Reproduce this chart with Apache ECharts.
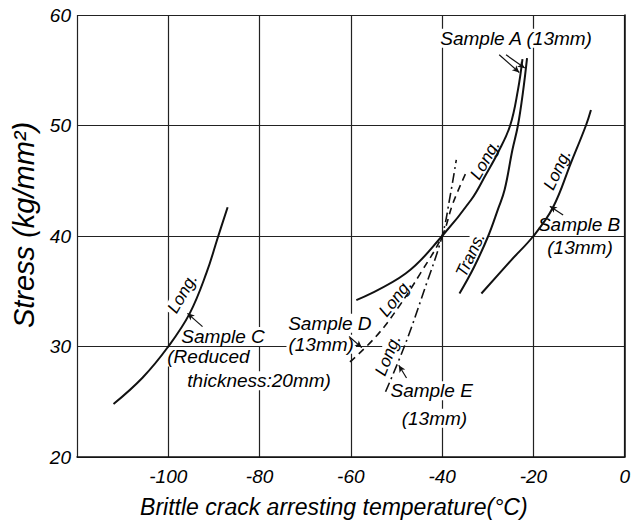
<!DOCTYPE html>
<html><head><meta charset="utf-8">
<script src="https://cdn.jsdelivr.net/npm/echarts@6/dist/echarts.min.js"></script>
<style>html,body{margin:0;padding:0;background:#fff}#c{width:633px;height:523px}</style>
</head><body><div id="c"></div>
<script>
// ---- data ----
const xTicks = [-120, -100, -80, -60, -40, -20, 0];
const yTicks = [20, 30, 40, 50, 60];
const sampleALong  = [[-58.8,34.2],[-48,36.6],[-40,40],[-33.6,43.3],[-30.5,45.5],[-27.7,47.6],[-25.1,50],[-23.4,53.2],[-22.4,56]];
const sampleATrans = [[-36.2,34.8],[-33,37.2],[-29.9,40],[-27.7,42.5],[-26.3,44.2],[-24.6,47.8],[-23.4,50],[-22.3,53],[-21.4,56.1]];
const sampleBLong  = [[-31.4,34.8],[-24.9,37.8],[-20,40],[-15.7,42.6],[-11.8,46.6],[-8.5,50],[-7.4,51.4]];
const sampleCLong  = [[-112,24.8],[-105.6,27.2],[-100,30],[-95.3,33],[-91.6,36.7],[-89.2,39.8],[-87,42.6]];
const sampleDLong  = [[-60.2,28.6],[-54.5,30.9],[-49.5,33.6],[-44.8,36.6],[-40,40],[-37.6,43],[-34.8,45.7]];
const sampleELong  = [[-52.4,25.9],[-48,30.3],[-44,35],[-40,40],[-38.3,43.5],[-36.9,46.9]];
// annotation texts: [text, T, S, rotation]
const annotTexts = [
  ['Sample A (13mm)', -23.8, 57.9, 0],
  ['Long.', -30.6, 46.9, 60],
  ['Trans.', -33.8, 38.3, 65],
  ['Long.', -14.8, 46.0, 65],
  ['Sample B', -10.0, 41.0, 0],
  ['(13mm)', -9.8, 39.0, 0],
  ['Long.', -96.9, 34.8, 60],
  ['Sample C', -88.0, 30.9, 0],
  ['(Reduced', -91.2, 29.05, 0],
  ['thickness:20mm)', -80.1, 26.9, 0],
  ['Sample D', -64.6, 32.1, 0],
  ['(13mm)', -66.5, 30.2, 0],
  ['Long.', -50.2, 34.4, 52],
  ['Long.', -51.9, 29.2, 68],
  ['Sample E', -42.3, 26.0, 0],
  ['(13mm)', -41.7, 23.5, 0]
];
// pointer arrows: [fromT, fromS, toT, toS]
const annotArrows = [
  [-27.5, 56.4, -23.1, 54.8],
  [-26.0, 56.4, -21.9, 55.2],
  [-13.5, 41.9, -16.4, 42.7],
  [-92.5, 31.8, -95.8, 33.0],
  [-60.4, 30.9, -57.6, 29.9],
  [-47.8, 27.15, -49.5, 28.3]
];
const xName = 'Brittle crack arresting temperature(°C)';
const yName = 'Stress (kg/mm²)';

// ---- chart ----
const FONT = "'Liberation Sans',Arial,sans-serif";
const chart = echarts.init(document.getElementById('c'), null, {renderer: 'svg'});
function curve(name, data, type) {
  return {
    name, type: 'line', data, smooth: 0.4, showSymbol: false, symbol: 'none', z: 5,
    lineStyle: {color: '#111', width: type === 'solid' ? 2 : 1.6, type}
  };
}
const textData = annotTexts.map(a => ({
  value: [a[1], a[2]],
  label: {
    show: true, position: 'inside', formatter: a[0], rotate: a[3],
    fontFamily: FONT, fontStyle: 'italic', color: '#000', opacity: 1,
    textBorderWidth: 0,
    fontSize: a[0].startsWith('Long') || a[0].startsWith('Trans') ? 17 : 19,
    backgroundColor: '#fff', padding: [0, 2]
  }
}));
chart.setOption({
  animation: false,
  backgroundColor: '#fff',
  grid: {left: 77, right: 6, top: 15, bottom: 66},
  xAxis: {
    type: 'value', min: xTicks[0], max: xTicks[xTicks.length - 1], interval: 20,
    name: xName, nameLocation: 'middle', nameGap: 38,
    nameTextStyle: {fontFamily: FONT, fontStyle: 'italic', fontSize: 23, color: '#000',
      padding: [0, 34, 0, 0]},
    axisLine: {lineStyle: {color: '#111', width: 1.5}},
    axisTick: {show: false},
    axisLabel: {fontFamily: FONT, fontStyle: 'italic', fontSize: 19, color: '#000', margin: 10,
      formatter: v => v === xTicks[0] ? '' : String(v)},
    splitLine: {lineStyle: {color: '#222', width: 1.2}}
  },
  yAxis: {
    type: 'value', min: yTicks[0], max: yTicks[yTicks.length - 1], interval: 10,
    name: yName, nameLocation: 'middle', nameGap: 36,
    nameTextStyle: {fontFamily: FONT, fontStyle: 'italic', fontSize: 29, color: '#000',
      padding: [0, 0, 0, 22]},
    axisLine: {lineStyle: {color: '#111', width: 1.5}},
    axisTick: {show: false},
    axisLabel: {fontFamily: FONT, fontStyle: 'italic', fontSize: 19, color: '#000', margin: 6},
    splitLine: {lineStyle: {color: '#222', width: 1.2}}
  },
  series: [
    {type: 'scatter', data: textData, symbolSize: 0, z: 3, silent: true,
     itemStyle: {opacity: 1}},
    curve('A Long', sampleALong, 'solid'),
    curve('A Trans', sampleATrans, 'solid'),
    curve('B Long', sampleBLong, 'solid'),
    curve('C Long', sampleCLong, 'solid'),
    curve('D Long', sampleDLong, [7, 5]),
    curve('E Long', sampleELong, [10, 4, 2, 4]),
    {
      type: 'line', data: [], z: 5,
      markLine: {
        silent: true, symbol: ['none', 'arrow'], symbolSize: [5, 7],
        label: {show: false},
        lineStyle: {color: '#111', width: 1.2, type: 'solid'},
        data: annotArrows.map(a => [{coord: [a[0], a[1]]}, {coord: [a[2], a[3]]}])
      }
    }
  ]
});
</script></body></html>
